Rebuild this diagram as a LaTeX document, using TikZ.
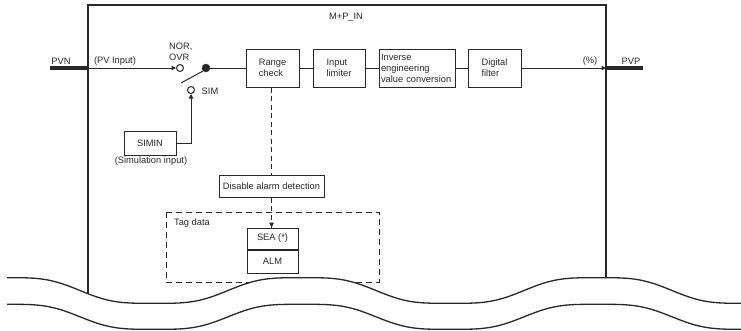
\documentclass[tikz,border=0pt]{standalone}
\usepackage{fontspec}
\setmainfont{Liberation Sans}
\usetikzlibrary{arrows.meta}
\definecolor{ln}{RGB}{40,40,40}
\definecolor{tx}{RGB}{40,40,40}
\begin{document}
\begin{tikzpicture}[x=1pt,y=-1pt,
  font=\fontsize{9.3}{11}\selectfont, text=tx,
  blk/.style={draw=ln,line width=1pt,align=left,inner sep=0pt},
  lbl/.style={inner sep=0pt},
  wire/.style={draw=ln,line width=1pt},
  dsh/.style={draw=ln,line width=1pt,dash pattern=on 5pt off 3.5pt},
  tip/.style={-{Triangle[length=4.5pt,width=4.5pt]}},
  thick bus/.style={draw=ln,line width=4pt}
]
\path[use as bounding box] (0,0) rectangle (741,330);

% main block frame
\coordinate (mbl) at (88,300);
\coordinate (mtl) at (88,5);
\coordinate (mtr) at (606,5);
\coordinate (mbr) at (606,300);
\draw[draw=ln,line width=1.2pt] (mbl) -- (mtl) -- (mtr) -- (mbr);
\node[lbl] (title) at (346,17) {M+P\_IN};

% input bus
\coordinate (pvnA) at (50,68);
\coordinate (pvnB) at (88,68);
\draw[thick bus] (pvnA) -- (pvnB);
\node[lbl] (pvn) at (61,61) {PVN};
\node[lbl] (pvin) at (115,61) {(PV Input)};

% switch
\node[draw=ln,line width=1pt,circle,minimum size=7pt,inner sep=0pt,fill=white] (nor) at (180,68) {};
\node[draw=ln,circle,minimum size=8pt,inner sep=0pt,fill=ln] (dot) at (206,68) {};
\node[draw=ln,line width=1pt,circle,minimum size=7pt,inner sep=0pt,fill=white] (sim) at (191,90) {};
\node[lbl,align=left,anchor=south west] (norovr) at (169,61) {NOR,\\OVR};
\node[lbl] (simlbl) at (210,91) {SIM};
\coordinate (swA) at (181,83);
\coordinate (swB) at (203,71);
\draw[wire] (swA) -- (swB);
\draw[wire,tip] (pvnB) -- (nor.west);

% SIMIN
\node[blk,minimum width=52pt,minimum height=24pt,align=center] (simin) at (150,143) {SIMIN};
\node[lbl] (siminl) at (151,161) {(Simulation input)};
\coordinate (simc) at (191,143);
\draw[wire,tip] (simin.east) -- (simc) -- (sim.south);

% processing blocks
\node[blk,minimum width=53pt,minimum height=38pt] (rc) at (272.5,68) {Range\\check};
\node[blk,minimum width=52pt,minimum height=38pt] (il) at (339,68) {Input\\limiter};
\node[blk,minimum width=76pt,minimum height=38pt,text width=72pt] (iev) at (417,68) {Inverse\\engineering\\value conversion};
\node[blk,minimum width=53pt,minimum height=38pt] (df) at (494.5,68) {Digital\\filter};
\draw[wire] (dot) -- (rc.west);
\draw[wire] (rc.east) -- (il.west);
\draw[wire] (il.east) -- (iev.west);
\draw[wire] (iev.east) -- (df.west);
\coordinate (outp) at (606,68);
\coordinate (pvpB) at (643,68);
\draw[wire,tip] (df.east) -- (outp);
\draw[thick bus] (outp) -- (pvpB);
\node[lbl] (pct) at (590,61) {(\%)};
\node[lbl] (pvp) at (631,61) {PVP};

% alarm path
\node[blk,minimum width=105pt,minimum height=22pt,align=center] (dad) at (271.5,186) {Disable alarm detection};
\draw[dsh] (rc.south -| dad.north) -- (dad.north);

% tag data
\coordinate (tagA) at (166,212);
\coordinate (tagB) at (379,282);
\draw[draw=ln,line width=1pt,dash pattern=on 6pt off 4pt] (tagA) rectangle (tagB);
\node[lbl] (tagl) at (192,223) {Tag data};
\node[blk,minimum width=51pt,minimum height=21pt,align=center] (sea) at (272.5,238.5) {SEA (*)};
\node[blk,minimum width=51pt,minimum height=23pt,align=center,anchor=north] (alm) at (sea.south) {ALM};
\draw[dsh] (dad.south) -- ([yshift=-4pt]dad.south |- sea.north);
\fill[ln] (dad.south |- sea.north) -- ++(-2.5,-5) -- ++(5,0) -- cycle;

% torn edge
\def\wv#1{(cos(1.21622*(#1-302))-cos(3.64865*(#1-302))/9)*1.125}
\fill[white] plot[domain=7:741,samples=200,smooth] (\x,{290.5-12.8*\wv{\x}})
  -- plot[domain=741:7,samples=200,smooth] (\x,{316.8-12.5*\wv{\x}}) -- cycle;
\draw[draw=ln,line width=1.3pt] plot[domain=7:741,samples=200,smooth] (\x,{290.5-12.8*\wv{\x}});
\draw[draw=ln,line width=1.3pt] plot[domain=7:741,samples=200,smooth] (\x,{316.8-12.5*\wv{\x}});
\end{tikzpicture}
\end{document}
